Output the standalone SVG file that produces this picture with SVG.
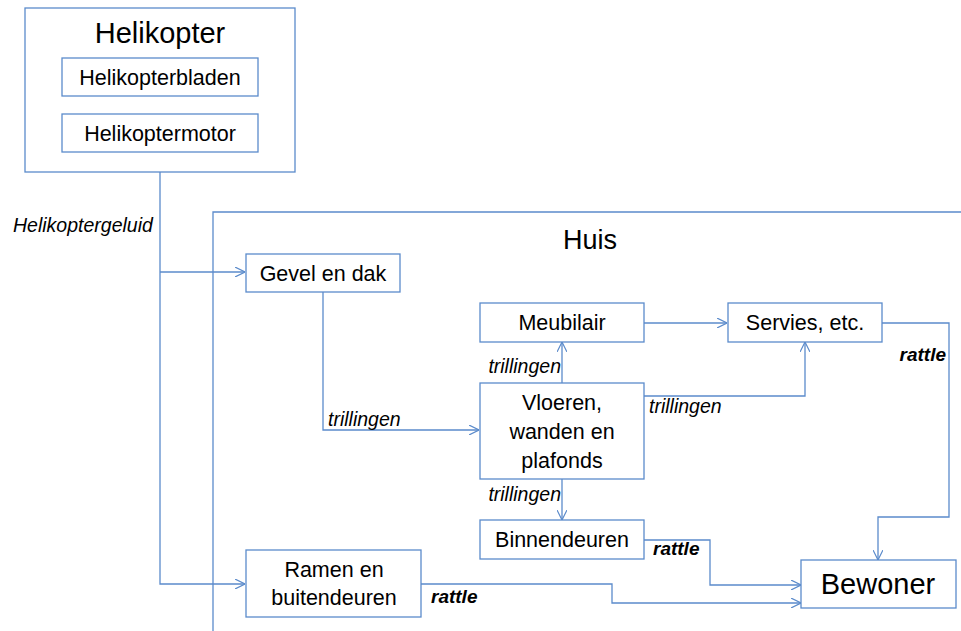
<svg xmlns="http://www.w3.org/2000/svg" width="961" height="631" viewBox="0 0 961 631">
<style>
.box{fill:#fff;stroke:#5B8BCB;stroke-width:1.3}
.ln{fill:none;stroke:#5B8BCB;stroke-width:1.3}
.t{font-family:"Liberation Sans",Arial,sans-serif;fill:#000;text-anchor:middle}
.n{font-size:21.5px}
.lab{font-family:"Liberation Sans",Arial,sans-serif;font-size:19.5px;font-style:italic;fill:#000}
.b{font-weight:bold;font-size:19px}
</style>
<defs>
<marker id="a" viewBox="0 0 10 10" refX="10" refY="5" markerWidth="10" markerHeight="10" markerUnits="userSpaceOnUse" orient="auto">
<path d="M0,0 L10,5 L0,10" fill="none" stroke="#5B8BCB" stroke-width="1.2"/>
</marker>
</defs>
<rect x="0" y="0" width="961" height="631" fill="#fff"/>
<g id="huis">
<path class="ln" d="M213,631 V212 H961"/>
<text class="t" x="590" y="249" font-size="27">Huis</text>
</g>
<g id="connectors">
<path class="ln" d="M160,172 V584 H245" marker-end="url(#a)"/>
<path class="ln" d="M160,272 H245" marker-end="url(#a)"/>
<path class="ln" d="M323,292 V430 H479" marker-end="url(#a)"/>
<path class="ln" d="M562,383 V342" marker-end="url(#a)"/>
<path class="ln" d="M644,323 H727" marker-end="url(#a)"/>
<path class="ln" d="M644,396 H805 V342" marker-end="url(#a)"/>
<path class="ln" d="M882,323 H949 V517 H878 V560" marker-end="url(#a)"/>
<path class="ln" d="M562,479 V520" marker-end="url(#a)"/>
<path class="ln" d="M644,540 H710 V585 H801" marker-end="url(#a)"/>
<path class="ln" d="M421,584 H612 V603 H801" marker-end="url(#a)"/>
<text class="lab" x="13" y="232">Helikoptergeluid</text>
<text class="lab" x="328" y="426">trillingen</text>
<text class="lab" x="561" y="373" text-anchor="end">trillingen</text>
<text class="lab" x="649" y="413">trillingen</text>
<text class="lab" x="561" y="501" text-anchor="end">trillingen</text>
<text class="lab b" x="946" y="361" text-anchor="end">rattle</text>
<text class="lab b" x="653" y="555">rattle</text>
<text class="lab b" x="431" y="603">rattle</text>
</g>
<g id="helikopter">
<rect class="box" x="25" y="8" width="270" height="164"/>
<text class="t" x="160" y="43" font-size="29">Helikopter</text>
</g>
<g id="helikopterbladen">
<rect class="box" x="62" y="58" width="196" height="38"/>
<text class="t n" x="160" y="85">Helikopterbladen</text>
</g>
<g id="helikoptermotor">
<rect class="box" x="62" y="114" width="196" height="38"/>
<text class="t n" x="160" y="141">Helikoptermotor</text>
</g>
<g id="gevel">
<rect class="box" x="246" y="254" width="154" height="38"/>
<text class="t n" x="323" y="281">Gevel en dak</text>
</g>
<g id="meubilair">
<rect class="box" x="480" y="303" width="164" height="39"/>
<text class="t n" x="562" y="330">Meubilair</text>
</g>
<g id="servies">
<rect class="box" x="728" y="303" width="154" height="39"/>
<text class="t n" x="805" y="330">Servies, etc.</text>
</g>
<g id="vloeren">
<rect class="box" x="480" y="383" width="164" height="96"/>
<text class="t n" x="562" y="410">Vloeren,</text>
<text class="t n" x="562" y="439">wanden en</text>
<text class="t n" x="562" y="468">plafonds</text>
</g>
<g id="binnendeuren">
<rect class="box" x="480" y="520" width="164" height="39"/>
<text class="t n" x="562" y="547">Binnendeuren</text>
</g>
<g id="ramen">
<rect class="box" x="246" y="550" width="175" height="67"/>
<text class="t n" x="334" y="577">Ramen en</text>
<text class="t n" x="334" y="605">buitendeuren</text>
</g>
<g id="bewoner">
<rect class="box" x="801" y="560" width="155" height="48"/>
<text class="t" x="878" y="594" font-size="29">Bewoner</text>
</g>
</svg>
